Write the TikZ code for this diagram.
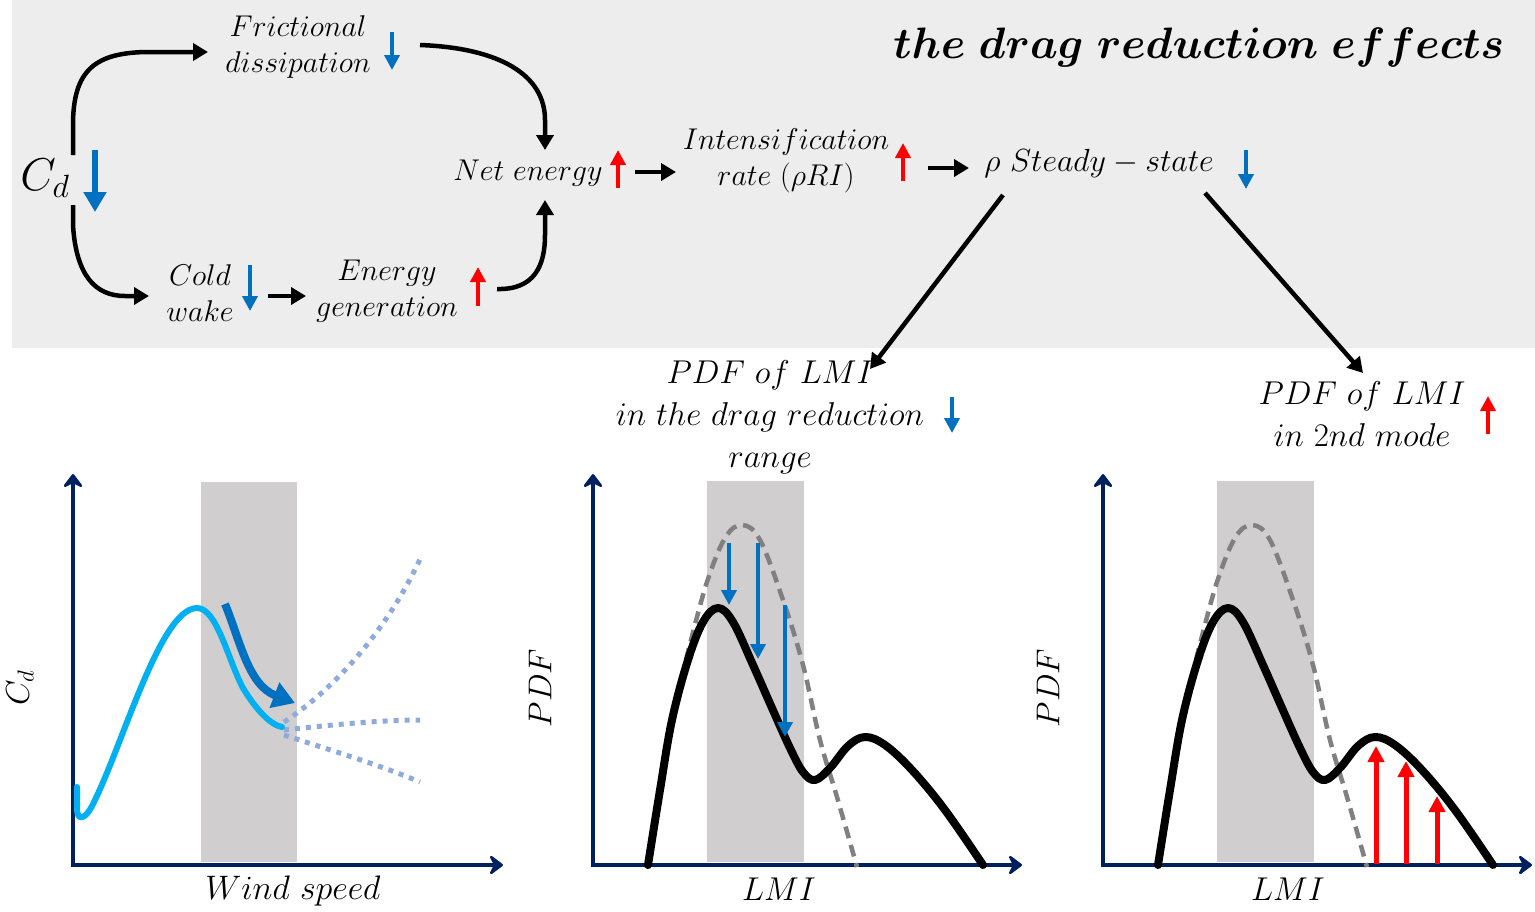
\RequirePackage{fix-cm}
\documentclass[tikz,border=0pt]{standalone}
\usetikzlibrary{arrows.meta}
\definecolor{bgtop}{HTML}{EDEDED}
\definecolor{band}{HTML}{D0CECE}
\definecolor{navy}{HTML}{002060}
\definecolor{dblue}{HTML}{0070C0}
\definecolor{cyanc}{HTML}{00B0F0}
\definecolor{dotc}{HTML}{8FAADC}
\definecolor{redc}{HTML}{FF0000}
\definecolor{dashc}{HTML}{808080}
\begin{document}
\begin{tikzpicture}[x=1pt,y=-1pt,
  flowtxt/.style={font=\fontsize{30}{36}\selectfont, align=center, inner sep=0pt},
  lbl/.style={font=\fontsize{33}{42}\selectfont, align=center, inner sep=0pt},
  titletxt/.style={font=\fontsize{44}{48}\selectfont\boldmath, inner sep=0pt},
  flowarr/.style={line width=4.5pt, -{Triangle[length=15pt,width=17pt]}},
  downind/.style={line width=4pt, dblue, -{Triangle[length=15pt,width=15pt]}},
  upind/.style={line width=4pt, redc, -{Triangle[length=15pt,width=15pt]}},
  axisline/.style={line width=4pt, navy, {Stealth[length=16pt,width=24pt,inset=6pt,round]}-{Stealth[length=16pt,width=24pt,inset=6pt,round]}},
  pdfcurve/.style={line width=8pt, black, line join=round, line cap=round},
  dashcurve/.style={line width=4.5pt, dashc, dash pattern=on 12pt off 7pt},
  dotline/.style={line width=5pt, dotc, dash pattern=on 5pt off 6pt}
]
\useasboundingbox (0,0) rectangle (1535,911);
\fill[white] (0,0) rectangle (1535,911);
\fill[bgtop] (12,0) rectangle (1535,348);

% ---------- top flow ----------
\node[font=\fontsize{46}{50}\selectfont, inner sep=0pt] (cd) at (45,178) {$C_d$};
\draw[line width=6pt, dblue, -{Triangle[length=20pt,width=22pt]}] (95,150) -- (95,212);

\node[flowtxt] (fric) at (298,47) {$Frictional$\\$dissipation$};
\draw[downind] (392,32) -- (392,70);
\node[flowtxt] (cold) at (200,293) {$Cold$\\$wake$};
\draw[downind] (250,265) -- (250,311);
\node[flowtxt] (egen) at (387,291) {$Energy$\\$generation$};
\draw[upind] (478,306) -- (478,267);
\node[flowtxt] (net) at (528,173) {$Net\ energy$};
\draw[upind] (618,188) -- (618,150);
\node[flowtxt] (intens) at (786,161) {$Intensification$\\$rate\ (\rho RI)$};
\draw[upind] (903,181) -- (903,143);
\node[flowtxt, font=\fontsize{32}{36}\selectfont] (steady) at (1099,163) {$\rho\ Steady - state$};
\draw[downind] (1246,150) -- (1246,189);

\node[titletxt] (title) at (1199,47) {$the\ drag\ reduction\ effects$};

\node[lbl] (pdfa) at (770,417) {$PDF\ of\ LMI$\\$in\ the\ drag\ reduction$\\$range$};
\draw[downind] (952,397) -- (952,433);
\node[lbl] (pdfb) at (1362,414) {$PDF\ of\ LMI$\\$in\ 2nd\ mode$};
\draw[upind] (1488,434) -- (1488,396);

% connector anchor points
\coordinate (cdtop) at (73,155);
\coordinate (cdbot) at (73,205);
\coordinate (frin) at (208,52);
\coordinate (frout) at (420,45);
\coordinate (coldin) at (149,296);
\coordinate (coldout) at (268,296);
\coordinate (egin) at (306,296);
\coordinate (egout) at (497,289);
\coordinate (nettop) at (545,150);
\coordinate (netbot) at (545,200);
\coordinate (netout) at (635,172);
\coordinate (intin) at (676,172);
\coordinate (intout) at (928,168);
\coordinate (stin) at (969,168);
\coordinate (stl) at (1003,195);
\coordinate (str) at (1205,193);
\coordinate (pdfain) at (870,369);
\coordinate (pdfbin) at (1363,373);

\draw[flowarr] (cdtop) -- (73,125) .. controls (73,70) and (95,52) .. (150,52) -- (frin);
\draw[flowarr] (cdbot) -- (73,225) .. controls (76,275) and (95,296) .. (125,296) -- (coldin);
\draw[flowarr] (frout) .. controls (500,48) and (545,75) .. (545,120) -- (nettop);
\draw[flowarr] (egout) .. controls (535,290) and (545,265) .. (545,235) -- (netbot);
\draw[flowarr] (coldout) -- (egin);
\draw[flowarr] (netout) -- (intin);
\draw[flowarr] (intout) -- (stin);
\draw[flowarr] (stl) -- (pdfain);
\draw[flowarr] (str) -- (pdfbin);

% ---------- panel 1 ----------
\fill[band] (201,482) rectangle (297,862);
\draw[axisline] (73,474) -- (73,865) -- (503,865);
\draw[dotline] (284,722) .. controls (340,685) and (390,625) .. (422,555);
\draw[dotline] (284,730) .. controls (330,725) and (380,720) .. (420,720);
\draw[dotline] (284,735) .. controls (330,750) and (380,765) .. (420,782);
\draw[line width=6pt, cyanc, line cap=round, line join=round]
  (77,787) -- (77,808) .. controls (77,823) and (86,818) .. (92,806)
  .. controls (122,748) and (160,608) .. (197,608)
  .. controls (217,608) and (228,660) .. (243,688)
  .. controls (255,708) and (270,725) .. (282,727);
\draw[line width=8pt, dblue, -{Triangle[length=22pt,width=26pt]}]
  (225,604) .. controls (240,640) and (248,685) .. (295,703);
\node[lbl, rotate=90] (ycd) at (20,688) {$C_d$};
\node[lbl, font=\fontsize{34}{40}\selectfont] (wind) at (293,891) {$Wind\ speed$};

% ---------- panels 2 and 3 ----------
\foreach \dx in {0,510}{
\begin{scope}[xshift=\dx pt]
\fill[band] (707,481) rectangle (804,862);
\draw[axisline] (593,474) -- (593,865) -- (1022,865);
\draw[dashcurve] plot[smooth, tension=0.6] coordinates {(686,660) (691,640) (707,582) (725,538) (742,525) (760,540) (783,600) (803,665) (820,740) (837,797) (857,867)};
\draw[pdfcurve] plot[smooth, tension=0.6] coordinates {(648,865) (660,790) (672,720) (688,660) (703,622) (718,608) (733,622) (753,665) (772,708) (790,748) (803,772) (815,780) (830,768) (848,746) (865,737) (885,745) (912,770) (945,810) (983,865)};
\end{scope}
}
\draw[downind] (729,543) -- (729,605);
\draw[downind] (758,543) -- (758,659);
\draw[downind] (785,605) -- (785,737);
\node[lbl, rotate=90] (ypdfa) at (540,688) {$PDF$};
\node[lbl] (lmia) at (779,889) {$LMI$};

\draw[line width=5pt, redc, -{Triangle[length=16pt,width=16pt]}] (1376,864) -- (1376,746);
\draw[line width=5pt, redc, -{Triangle[length=16pt,width=16pt]}] (1406,864) -- (1406,761);
\draw[line width=5pt, redc, -{Triangle[length=16pt,width=16pt]}] (1437,864) -- (1437,796);
\node[lbl, rotate=90] (ypdfb) at (1048,688) {$PDF$};
\node[lbl] (lmib) at (1288,889) {$LMI$};
\end{tikzpicture}
\end{document}
